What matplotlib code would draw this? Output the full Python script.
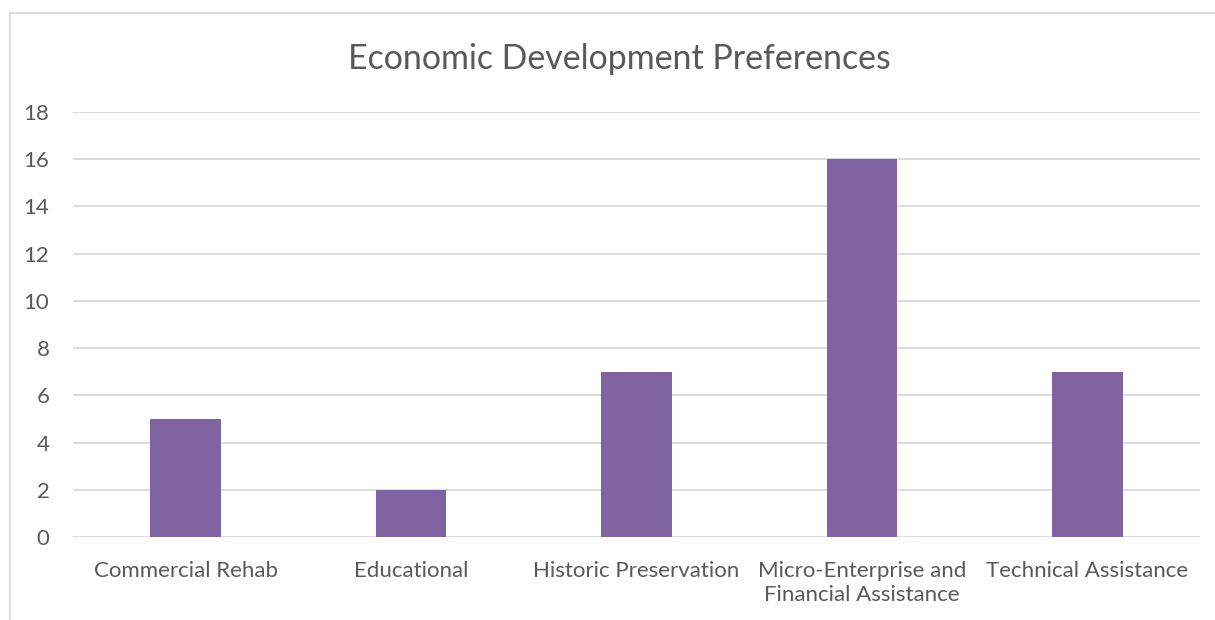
import matplotlib.pyplot as plt
from matplotlib.lines import Line2D

categories = ['Commercial Rehab', 'Educational', 'Historic Preservation',
              'Micro-Enterprise and\nFinancial Assistance', 'Technical Assistance']
values = [5, 2, 7, 16, 7]
yticks = [0, 2, 4, 6, 8, 10, 12, 14, 16, 18]

plt.rcParams['font.family'] = ['Lato', 'DejaVu Sans']

fig = plt.figure(figsize=(12.15, 6.2), dpi=100)
ax = fig.add_axes([0.0601, 0.1339, 0.9276, 0.6855])

ax.bar(range(len(categories)), values, width=0.313, color='#8064A2', zorder=3)
ax.set_xlim(-0.5, len(categories) - 0.5)
ax.set_ylim(0, 18)
ax.set_yticks(yticks)
ax.set_xticks(range(len(categories)))
ax.set_xticklabels(categories, fontsize=16, color='#595959', linespacing=1.3)
ax.tick_params(axis='y', labelsize=16, labelcolor='#595959', length=0, pad=17)
ax.tick_params(axis='x', length=0, pad=17)
ax.grid(axis='y', color='#d9d9d9', linewidth=1.3, zorder=0)
for s in ax.spines.values():
    s.set_visible(False)

fig.text(0.5095, 0.905, 'Economic Development Preferences', ha='center', va='center',
         fontsize=24.4, color='#595959')

# chart area border (left and top edges only visible)
x0 = 9.5 / 1215
y0 = 1 - 13 / 620
fig.add_artist(Line2D([x0, x0], [0, y0], color='#d9d9d9', linewidth=1.3))
fig.add_artist(Line2D([x0, 1], [y0, y0], color='#d9d9d9', linewidth=1.3))

fig.savefig('out.png', dpi=100)
